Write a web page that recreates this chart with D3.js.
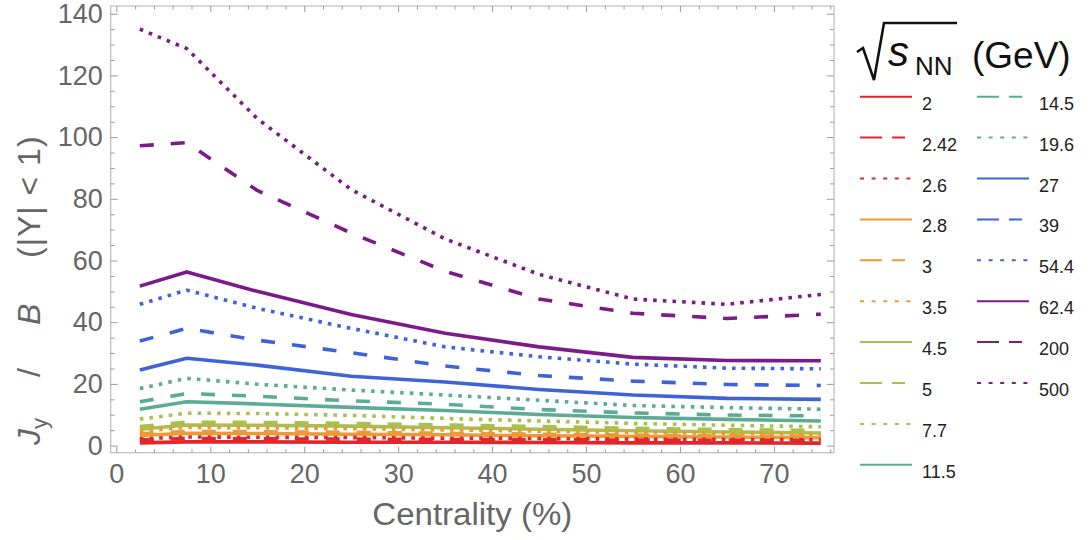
<!DOCTYPE html>
<html>
<head>
<meta charset="utf-8">
<script src="https://cdn.jsdelivr.net/npm/d3@7"></script>
<style>
  body { margin: 0; background: #fff; }
  svg { display: block; font-family: "Liberation Sans", Arial, sans-serif; }
</style>
</head>
<body>
<svg id="chart" width="1091" height="540"></svg>
<script>
// centrality bin centres (%)
var centrality = [2.5, 7.5, 15, 25, 35, 45, 55, 65, 75];

// sqrt(s_NN) values (GeV), legend order
var energies = ["2", "2.42", "2.6", "2.8", "3", "3.5", "4.5", "5", "7.7",
                "11.5", "14.5", "19.6", "27", "39", "54.4", "62.4", "200", "500"];

// J_y / B (|Y| < 1) per energy
var jy_2    = [0.9, 1.2, 1.2, 1.1, 1.1, 1.0, 0.9, 0.9, 0.8];
var jy_242  = [1.8, 2.3, 2.2, 2.1, 2.0, 1.9, 1.8, 1.7, 1.6];
var jy_26   = [2.2, 2.8, 2.7, 2.6, 2.4, 2.3, 2.1, 2.0, 1.9];
var jy_28   = [3.3, 4.0, 3.9, 3.7, 3.5, 3.2, 3.0, 2.8, 2.6];
var jy_3    = [3.8, 4.6, 4.5, 4.3, 4.0, 3.7, 3.4, 3.2, 3.0];
var jy_35   = [4.7, 5.9, 5.8, 5.5, 5.1, 4.7, 4.3, 4.0, 3.7];
var jy_45   = [5.3, 6.7, 6.6, 6.3, 5.8, 5.3, 4.8, 4.4, 4.1];
var jy_5    = [6.2, 7.6, 7.5, 7.2, 6.7, 6.2, 5.6, 5.2, 4.9];
var jy_77   = [8.6, 10.5, 10.4, 9.8, 8.8, 8.0, 7.2, 6.6, 6.1];
var jy_115  = [11.8, 14.2, 13.5, 12.4, 11.4, 10.1, 9.1, 8.5, 8.0];
var jy_145  = [14.2, 16.9, 16.0, 14.5, 13.4, 11.7, 10.6, 9.9, 9.6];
var jy_196  = [18.5, 21.8, 19.9, 18.0, 16.4, 14.7, 13.0, 12.3, 11.8];
var jy_27   = [24.5, 28.3, 26.1, 22.5, 20.6, 18.2, 16.4, 15.3, 15.0];
var jy_39   = [33.9, 38.0, 34.2, 30.1, 25.8, 22.7, 20.9, 19.8, 19.5];
var jy_544  = [45.8, 50.4, 44.5, 38.0, 32.0, 28.8, 26.4, 25.1, 24.9];
var jy_624  = [51.7, 56.3, 50.0, 42.5, 36.4, 32.0, 28.6, 27.6, 27.5];
var jy_200  = [97.2, 98.2, 82.7, 68.9, 56.5, 47.5, 42.9, 41.2, 42.6];
var jy_500  = [135, 128.7, 106, 83, 67, 55.5, 47.5, 45.8, 49];

var seriesValues = [jy_2, jy_242, jy_26, jy_28, jy_3, jy_35, jy_45, jy_5, jy_77,
                    jy_115, jy_145, jy_196, jy_27, jy_39, jy_544, jy_624, jy_200, jy_500];

var xTicks = [0, 10, 20, 30, 40, 50, 60, 70];
var yTicks = [0, 20, 40, 60, 80, 100, 120, 140];

// styles: colour per group of three, solid / dashed / dotted within a group
var groupColors = ["#e2262b", "#ea9b37", "#a9bf4f", "#5cab94", "#3e63d6", "#7b1b89"];
var plotDash = ["none", "14,17", "3.6,6.1"];
var legendDash = ["none", "22,10,13,30", "4,7.6"];

var svg = d3.select("#chart");
var x = d3.scaleLinear().domain([-0.6, 76.4]).range([110.7, 834]);
var y = d3.scaleLinear().domain([-2.3, 142.5]).range([452.7, 6]);

var tickColor = "#9a9a9a", labelColor = "#666";

// frame
svg.append("rect")
  .attr("x", x.range()[0]).attr("y", y.range()[1])
  .attr("width", x.range()[1] - x.range()[0])
  .attr("height", y.range()[0] - y.range()[1])
  .attr("fill", "none").attr("stroke", "#bdbdbd").attr("stroke-width", 1.2);

// ticks on all four sides (inward)
var xMinor = d3.range(0, 77, 2).filter(function(v){ return v % 10 !== 0; });
var yMinor = d3.range(0, 142, 5).filter(function(v){ return v % 20 !== 0; });

function drawAxis(axis, pos, vals, size, labels) {
  var g = svg.append("g").attr("transform", pos)
    .call(axis.tickValues(vals).tickSize(size).tickSizeOuter(0)
      .tickFormat(labels ? d3.format("d") : ""));
  g.select(".domain").remove();
  g.selectAll(".tick line").attr("stroke", tickColor).attr("stroke-width", 1);
  return g;
}

var left = drawAxis(d3.axisLeft(y), "translate(" + x.range()[0] + ",0)", yTicks, -7, true);
left.selectAll(".tick text").attr("x", -8);
drawAxis(d3.axisLeft(y), "translate(" + x.range()[0] + ",0)", yMinor, -4, false);
drawAxis(d3.axisRight(y), "translate(" + x.range()[1] + ",0)", yTicks, -7, false);
drawAxis(d3.axisRight(y), "translate(" + x.range()[1] + ",0)", yMinor, -4, false);

var bottom = drawAxis(d3.axisBottom(x), "translate(0," + y.range()[0] + ")", xTicks, -6, true);
bottom.selectAll(".tick text").attr("y", 11).attr("dy", "0.71em");
drawAxis(d3.axisBottom(x), "translate(0," + y.range()[0] + ")", xMinor, -3.5, false);
drawAxis(d3.axisTop(x), "translate(0," + y.range()[1] + ")", xTicks, -6, false);
drawAxis(d3.axisTop(x), "translate(0," + y.range()[1] + ")", xMinor, -3.5, false);

svg.selectAll(".tick text")
  .attr("fill", labelColor)
  .style("font-size", "27px")
  .style("font-family", "'Liberation Sans', Arial, sans-serif");

// axis titles
svg.append("text")
  .attr("x", (x.range()[0] + x.range()[1]) / 2).attr("y", 525)
  .attr("text-anchor", "middle").attr("fill", labelColor)
  .style("font-size", "31px")
  .attr("textLength", 200).attr("lengthAdjust", "spacingAndGlyphs")
  .text("Centrality (%)");

var yl = svg.append("text")
  .attr("transform", "translate(40,445) rotate(-90)")
  .attr("fill", labelColor).style("font-size", "32px");
yl.append("tspan").attr("x", 0).style("font-style", "italic").text("J");
yl.append("tspan").attr("dy", 7).style("font-size", "22px").text("y");
yl.append("tspan").attr("x", 68).attr("dy", -7).text("/");
yl.append("tspan").attr("x", 120).style("font-style", "italic").text("B");
yl.append("tspan").attr("x", 187).style("letter-spacing", "1px").text("(|Y| < 1)");

// curves
var line = d3.line()
  .x(function(d){ return x(d[0]); })
  .y(function(d){ return y(d[1]); });

var series = energies.map(function(e, i) {
  return {
    name: e,
    color: groupColors[Math.floor(i / 3)],
    kind: i % 3,
    points: centrality.map(function(c, j){ return [c, seriesValues[i][j]]; })
  };
});

svg.append("g")
  .selectAll("path")
  .data(series.slice().reverse())
  .enter()
  .append("path")
  .attr("d", function(d){ return line(d.points); })
  .attr("fill", "none")
  .attr("stroke", function(d){ return d.color; })
  .attr("stroke-width", 3.6)
  .attr("stroke-linejoin", "round")
  .attr("stroke-dasharray", function(d){ return plotDash[d.kind]; });

// legend title: sqrt(s_NN) (GeV)
var title = svg.append("g");
title.append("path")
  .attr("d", "M857,52 L863,48 L874,80 L884,23 L957,23")
  .attr("fill", "none").attr("stroke", "#111").attr("stroke-width", 2.6)
  .attr("stroke-linejoin", "miter");
title.append("text")
  .attr("x", 888).attr("y", 66)
  .attr("fill", "#111").style("font-size", "42px").style("font-style", "italic")
  .text("s");
title.append("text")
  .attr("x", 915).attr("y", 75)
  .attr("fill", "#111").style("font-size", "26px")
  .text("NN");
title.append("text")
  .attr("x", 972).attr("y", 68)
  .attr("fill", "#111").style("font-size", "37px")
  .text("(GeV)");

// legend entries, two columns
var legend = svg.append("g")
  .selectAll("g")
  .data(series)
  .enter()
  .append("g")
  .attr("transform", function(d, i) {
    var col = i < 10 ? 0 : 1;
    var row = i < 10 ? i : i - 10;
    return "translate(" + (860 + col * 117) + "," + (96.7 + row * 40.9) + ")";
  });

legend.append("line")
  .attr("x1", 0).attr("x2", 52).attr("y1", 0).attr("y2", 0)
  .attr("stroke", function(d){ return d.color; })
  .attr("stroke-width", 2)
  .attr("stroke-dasharray", function(d){ return legendDash[d.kind]; });

legend.append("text")
  .attr("x", 62).attr("y", 13)
  .attr("fill", "#222").style("font-size", "18px")
  .text(function(d){ return d.name; });
</script>
</body>
</html>
